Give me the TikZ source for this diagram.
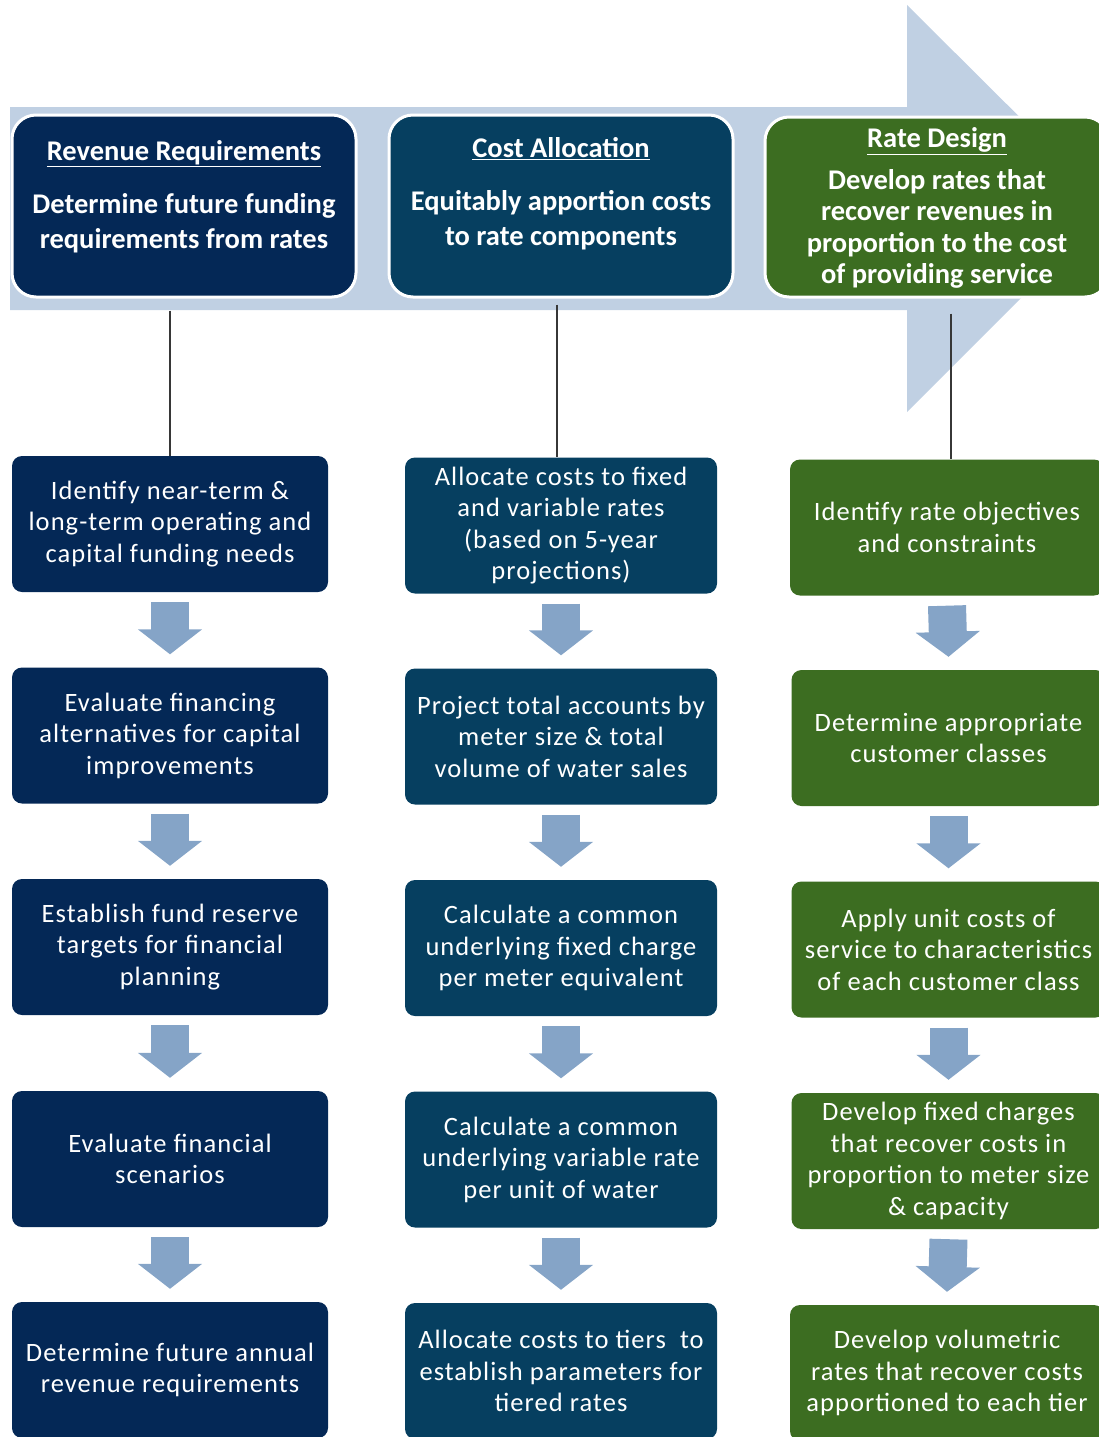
\documentclass[tikz,border=0pt]{standalone}
\usepackage{fontspec}
\setmainfont{Carlito}
\newfontfamily\stepfont{Carlito}[LetterSpace=4]
\usetikzlibrary{arrows.meta}

\definecolor{bandblue}{RGB}{192,208,227}
\definecolor{flowblue}{RGB}{133,164,199}
\definecolor{revnavy}{RGB}{4,40,86}
\definecolor{costteal}{RGB}{6,63,96}
\definecolor{rategreen}{RGB}{60,109,33}
\definecolor{linkgray}{RGB}{55,55,55}

\begin{document}
\begin{tikzpicture}[x=1pt,y=-1pt]
\tikzstyle{phase}=[draw=white, line width=3pt, rounded corners=24pt, minimum width=344pt, minimum height=182pt]
\tikzstyle{phasetext}=[text=white, align=center, font=\fontsize{28.5}{35}\selectfont\bfseries]
\tikzstyle{stepbox}=[rounded corners=10pt, minimum width=316pt, minimum height=136pt, text=white, align=center, font=\fontsize{26.5}{31.5}\selectfont\stepfont]
\tikzstyle{flow}=[draw=flowblue, line width=38pt, -{Triangle[width=63pt,length=25pt]}]
\tikzstyle{link}=[draw=linkgray, line width=2.5pt]

\clip (0,0) rectangle (1099,1437);

% Steps under each phase
\node[stepbox, fill=revnavy] (rev1) at (170,524) {Identify near-term \&\\long-term operating and\\capital funding needs};
\node[stepbox, fill=revnavy] (rev2) at (170,735.5) {Evaluate financing\\alternatives for capital\\improvements};
\node[stepbox, fill=revnavy] (rev3) at (170,947) {Establish fund reserve\\targets for financial\\planning};
\node[stepbox, fill=revnavy] (rev4) at (170,1159) {Evaluate financial\\scenarios};
\node[stepbox, fill=revnavy] (rev5) at (170,1370) {Determine future annual\\revenue requirements};

\node[stepbox, fill=costteal, minimum width=312pt] (cost1) at (561,525.5) {Allocate costs to fixed\\and variable rates\\(based on 5-year\\projections)};
\node[stepbox, fill=costteal, minimum width=312pt] (cost2) at (561,736.5) {Project total accounts by\\meter size \& total\\volume of water sales};
\node[stepbox, fill=costteal, minimum width=312pt] (cost3) at (561,948) {Calculate a common\\underlying fixed charge\\per meter equivalent};
\node[stepbox, fill=costteal, minimum width=312pt] (cost4) at (561,1159.5) {Calculate a common\\underlying variable rate\\per unit of water};
\node[stepbox, fill=costteal, minimum width=312pt] (cost5) at (561,1371) {Allocate costs to tiers\ \ to\\establish parameters for\\tiered rates};

\node[stepbox, fill=rategreen, minimum width=314pt] (rate1) at (947,527.5) {Identify rate objectives\\and constraints};
\node[stepbox, fill=rategreen, minimum width=314pt] (rate2) at (948.5,738) {Determine appropriate\\customer classes};
\node[stepbox, fill=rategreen, minimum width=314pt] (rate3) at (948.5,949.5) {Apply unit costs of\\service to characteristics\\of each customer class};
\node[stepbox, fill=rategreen, minimum width=314pt] (rate4) at (948.5,1161) {Develop fixed charges\\that recover costs in\\proportion to meter size\\\& capacity};
\node[stepbox, fill=rategreen, minimum width=314pt] (rate5) at (947,1373) {Develop volumetric\\rates that recover costs\\apportioned to each tier};

% Block arrows between steps
\foreach \col in {rev,cost,rate}{
  \foreach \i [evaluate=\i as \j using int(\i+1)] in {1,...,4}
    \draw[flow] ([yshift=-10pt]\col\i.south) -- ([yshift=13pt]\col\j.north);
}

% Process band
\fill[bandblue] (10,107) -- (907,107) -- (907,5) -- (1111,208) -- (907,412) -- (907,310) -- (10,310) -- cycle;

% Phase boxes on the band
\node[phase, fill=revnavy] (rev) at (184,206) {};
\node[phase, fill=costteal] (cost) at (561,206) {};
\node[phase, fill=rategreen, minimum height=180pt] (rate) at (937,207) {};
\node[phasetext] (rev-txt) at ([yshift=9pt]rev.center) {\underline{Revenue Requirements}\\[18pt]Determine future funding\\requirements from rates};
\node[phasetext] (cost-txt) at ([yshift=12pt]cost.center) {\underline{Cost Allocation}\\[18pt]Equitably apportion costs\\to rate components};
\node[phasetext, font=\fontsize{28.5}{31.5}\selectfont\bfseries] (rate-txt) at ([yshift=-1pt]rate.center) {\underline{Rate Design}\\[10pt]Develop rates that\\recover revenues in\\proportion to the cost\\of providing service};

% Drop lines
\draw[link] ([yshift=-12pt]rev.south -| rev1.north) -- (rev1.north);
\draw[link] ([xshift=-4pt,yshift=-6pt]cost.south -| cost1.north) -- ([xshift=-4pt]cost1.north);
\draw[link] ([xshift=4pt,yshift=-15pt]rate.south -| rate1.north) -- ([xshift=4pt]rate1.north);
\end{tikzpicture}
\end{document}
